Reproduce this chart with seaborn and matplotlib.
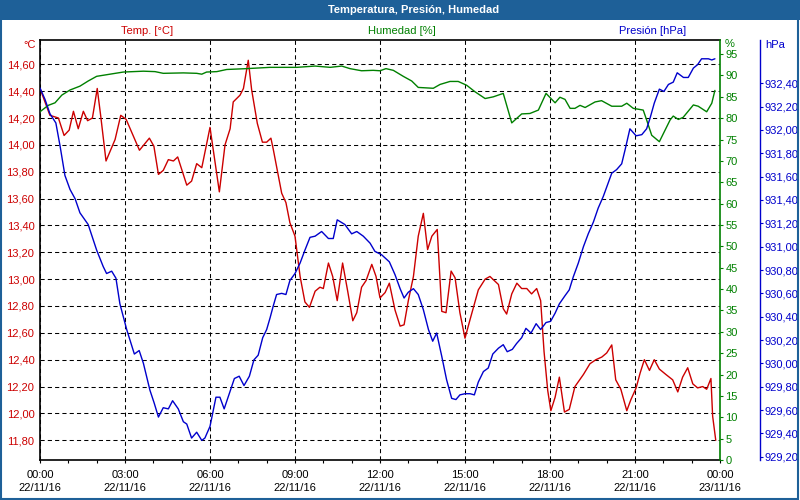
import matplotlib
matplotlib.use("Agg")
import matplotlib.pyplot as plt
import seaborn as sns
import pandas as pd
from matplotlib.patches import Rectangle

# ---------------- data ----------------
title = "Temperatura, Presión, Humedad"
temp_label = "Temp. [°C]"
hum_label = "Humedad [%]"
pres_label = "Presión [hPa]"

temp_hours = [0.00, 0.35, 0.65, 0.85, 1.03, 1.18, 1.35, 1.53, 1.68, 1.85,
              2.02, 2.14, 2.33, 2.65, 2.85, 3.04, 3.51, 3.86, 4.02, 4.18,
              4.35, 4.53, 4.71, 4.86, 5.18, 5.35, 5.53, 5.71, 6.00, 6.33,
              6.53, 6.71, 6.82, 7.06, 7.18, 7.35, 7.47, 7.67, 7.85, 8.00,
              8.15, 8.23, 8.53, 8.68, 8.82, 9.00, 9.18, 9.35, 9.51, 9.71,
              9.88, 10.00, 10.18, 10.33, 10.49, 10.68, 10.86, 11.04, 11.18, 11.35,
              11.51, 11.71, 11.86, 12.00, 12.18, 12.33, 12.53, 12.71, 12.85, 13.00,
              13.18, 13.35, 13.53, 13.68, 13.83, 14.02, 14.18, 14.33, 14.51, 14.65,
              14.82, 15.00, 15.18, 15.47, 15.71, 15.88, 16.18, 16.35, 16.47, 16.65,
              16.83, 17.00, 17.18, 17.35, 17.53, 17.67, 17.79, 17.92, 18.03, 18.18,
              18.33, 18.51, 18.68, 18.88, 19.18, 19.41, 19.62, 19.83, 20.00, 20.18,
              20.32, 20.50, 20.71, 20.85, 21.04, 21.18, 21.33, 21.51, 21.68, 21.86,
              22.09, 22.33, 22.51, 22.68, 22.86, 23.04, 23.21, 23.39, 23.53, 23.68,
              23.74, 23.85]
temp_values = [14.42, 14.22, 14.20, 14.07, 14.11, 14.25, 14.12, 14.25, 14.18, 14.20,
               14.42, 14.22, 13.88, 14.04, 14.22, 14.19, 13.96, 14.05, 13.99, 13.78,
               13.81, 13.89, 13.88, 13.91, 13.70, 13.73, 13.86, 13.83, 14.13, 13.65,
               14.00, 14.12, 14.32, 14.37, 14.42, 14.63, 14.41, 14.16, 14.02, 14.02,
               14.05, 13.97, 13.64, 13.57, 13.42, 13.32, 13.02, 12.83, 12.79, 12.91,
               12.94, 12.93, 13.12, 13.02, 12.84, 13.12, 12.91, 12.69, 12.75, 12.94,
               12.99, 13.11, 13.02, 12.86, 12.90, 12.97, 12.77, 12.65, 12.66, 12.84,
               13.02, 13.32, 13.49, 13.22, 13.32, 13.37, 12.76, 12.75, 13.06, 13.01,
               12.75, 12.56, 12.70, 12.92, 13.00, 13.02, 12.96, 12.78, 12.74, 12.89,
               12.97, 12.93, 12.93, 12.89, 12.93, 12.84, 12.46, 12.17, 12.02, 12.12,
               12.27, 12.01, 12.03, 12.20, 12.29, 12.37, 12.40, 12.42, 12.45, 12.51,
               12.25, 12.18, 12.02, 12.10, 12.19, 12.30, 12.40, 12.32, 12.40, 12.33,
               12.29, 12.25, 12.16, 12.27, 12.34, 12.22, 12.19, 12.20, 12.18, 12.26,
               11.98, 11.80]

hum_hours = [0.00, 0.29, 0.53, 0.77, 1.06, 1.41, 1.70, 2.00, 2.47, 2.94,
             3.65, 4.06, 4.35, 5.06, 5.53, 5.71, 5.88, 6.24, 6.59, 7.30,
             8.12, 9.06, 9.71, 10.24, 10.65, 10.94, 11.35, 11.76, 12.00, 12.21,
             12.47, 12.82, 13.12, 13.35, 13.88, 14.12, 14.47, 14.76, 15.06, 15.35,
             15.71, 16.00, 16.35, 16.65, 17.00, 17.29, 17.59, 17.86, 18.18, 18.35,
             18.53, 18.71, 18.88, 19.06, 19.24, 19.59, 19.82, 20.18, 20.53, 20.71,
             20.94, 21.29, 21.41, 21.59, 21.86, 22.24, 22.35, 22.53, 22.70, 23.06,
             23.23, 23.53, 23.71, 23.82]
hum_values = [81.5, 83.0, 83.6, 85.4, 86.6, 87.5, 88.7, 89.8, 90.3, 90.8,
              91.0, 90.9, 90.5, 90.6, 90.5, 90.3, 90.8, 90.9, 91.4, 91.6,
              91.9, 91.9, 92.2, 91.9, 92.2, 91.6, 91.1, 91.2, 91.1, 91.6,
              91.2, 89.8, 88.7, 87.2, 87.0, 87.9, 88.6, 88.6, 87.7, 86.2,
              84.6, 85.0, 85.8, 78.9, 81.0, 81.1, 81.9, 85.8, 83.6, 84.9,
              84.4, 82.3, 82.3, 83.0, 82.5, 83.8, 84.1, 82.8, 82.8, 83.5,
              82.3, 81.9, 79.6, 76.0, 74.5, 79.6, 80.5, 79.7, 80.2, 83.1,
              82.8, 81.5, 83.5, 86.5]

pres_hours = [0.00, 0.18, 0.35, 0.56, 0.71, 0.88, 1.06, 1.24, 1.41, 1.70,
              2.00, 2.23, 2.35, 2.53, 2.68, 2.82, 3.06, 3.33, 3.50, 3.65,
              3.88, 4.03, 4.18, 4.35, 4.53, 4.68, 4.88, 5.06, 5.18, 5.35,
              5.53, 5.71, 5.82, 6.00, 6.21, 6.35, 6.50, 6.68, 6.86, 7.03,
              7.20, 7.39, 7.55, 7.70, 7.86, 8.00, 8.12, 8.23, 8.35, 8.53,
              8.68, 8.82, 9.00, 9.18, 9.35, 9.53, 9.71, 9.94, 10.18, 10.35,
              10.49, 10.76, 11.00, 11.18, 11.41, 11.65, 11.82, 12.06, 12.33, 12.53,
              12.71, 12.85, 13.00, 13.18, 13.35, 13.53, 13.71, 13.86, 14.00, 14.18,
              14.35, 14.53, 14.68, 14.82, 15.00, 15.18, 15.33, 15.47, 15.65, 15.82,
              15.98, 16.18, 16.35, 16.49, 16.67, 16.82, 17.00, 17.15, 17.33, 17.51,
              17.67, 17.86, 18.02, 18.18, 18.33, 18.53, 18.68, 18.82, 19.00, 19.18,
              19.35, 19.53, 19.70, 19.88, 20.18, 20.35, 20.53, 20.65, 20.82, 21.04,
              21.24, 21.41, 21.53, 21.68, 21.86, 22.02, 22.18, 22.35, 22.49, 22.71,
              22.88, 23.06, 23.21, 23.35, 23.59, 23.71, 23.82]
pres_values = [932.36, 932.26, 932.14, 932.06, 931.86, 931.61, 931.49, 931.41, 931.29, 931.19,
               930.97, 930.83, 930.77, 930.79, 930.73, 930.51, 930.29, 930.08, 930.11, 930.00,
               929.77, 929.66, 929.54, 929.62, 929.61, 929.68, 929.61, 929.50, 929.48, 929.36,
               929.41, 929.34, 929.36, 929.46, 929.71, 929.71, 929.61, 929.74, 929.87, 929.89,
               929.81, 929.89, 930.03, 930.07, 930.22, 930.29, 930.39, 930.49, 930.59, 930.60,
               930.59, 930.71, 930.77, 930.86, 930.97, 931.08, 931.09, 931.13, 931.07, 931.07,
               931.23, 931.19, 931.11, 931.13, 931.09, 931.03, 930.96, 930.93, 930.87, 930.76,
               930.64, 930.56, 930.61, 930.64, 930.59, 930.46, 930.29, 930.19, 930.26, 930.06,
               929.86, 929.70, 929.69, 929.73, 929.74, 929.74, 929.73, 929.84, 929.93, 929.96,
               930.08, 930.13, 930.16, 930.10, 930.12, 930.17, 930.22, 930.30, 930.26, 930.34,
               930.29, 930.35, 930.36, 930.43, 930.51, 930.58, 930.63, 930.74, 930.86, 931.00,
               931.11, 931.21, 931.33, 931.43, 931.63, 931.66, 931.71, 931.83, 932.01, 931.95,
               931.96, 932.01, 932.10, 932.23, 932.35, 932.33, 932.39, 932.41, 932.49, 932.45,
               932.45, 932.53, 932.56, 932.61, 932.61, 932.60, 932.61]

x_tick_hours = [0, 3, 6, 9, 12, 15, 18, 21, 24]
x_tick_labels = ["00:00\n22/11/16", "03:00\n22/11/16", "06:00\n22/11/16",
                 "09:00\n22/11/16", "12:00\n22/11/16", "15:00\n22/11/16",
                 "18:00\n22/11/16", "21:00\n22/11/16", "00:00\n23/11/16"]
temp_ticks = [11.8, 12.0, 12.2, 12.4, 12.6, 12.8, 13.0, 13.2, 13.4, 13.6, 13.8, 14.0, 14.2, 14.4, 14.6]
hum_ticks = [0, 5, 10, 15, 20, 25, 30, 35, 40, 45, 50, 55, 60, 65, 70, 75, 80, 85, 90, 95]
pres_ticks = [929.2, 929.4, 929.6, 929.8, 930.0, 930.2, 930.4, 930.6, 930.8, 931.0,
              931.2, 931.4, 931.6, 931.8, 932.0, 932.2, 932.4]

# ---------------- style ----------------
sns.set_style("white")
plt.rcParams['font.family'] = ['Liberation Sans', 'DejaVu Sans']
plt.rcParams['font.size'] = 8

RED = "#cc0000"
GREEN = "#008000"
BLUE = "#0000cc"
BAND = "#1e6098"
FS = 8

df_t = pd.DataFrame({"hora": temp_hours, "valor": temp_values})
df_h = pd.DataFrame({"hora": hum_hours, "valor": hum_values})
df_p = pd.DataFrame({"hora": pres_hours, "valor": pres_values})

fig = plt.figure(figsize=(8, 5), dpi=100)
fig.patch.set_facecolor("white")

# title band and frame
fig.patches.append(Rectangle((0, 0.96), 1, 0.04, transform=fig.transFigure,
                             facecolor=BAND, edgecolor="none", zorder=0))
fig.patches.append(Rectangle((0.001, 0.002), 0.997, 0.995, transform=fig.transFigure,
                             facecolor="none", edgecolor=BAND, linewidth=1.5, zorder=0))
fig.text(0.5175, 0.98, title, color="white", fontweight="bold",
         ha="center", va="center", fontsize=FS)

ax = fig.add_axes([0.05, 0.08, 0.85, 0.84])
ax2 = ax.twinx()
ax3 = ax.twinx()

sns.lineplot(data=df_t, x="hora", y="valor", ax=ax, color=RED, linewidth=1.0,
             estimator=None, sort=False)
sns.lineplot(data=df_h, x="hora", y="valor", ax=ax2, color=GREEN, linewidth=1.0,
             estimator=None, sort=False)
sns.lineplot(data=df_p, x="hora", y="valor", ax=ax3, color=BLUE, linewidth=1.0,
             estimator=None, sort=False)

ax.set_xlim(0, 24)
ax.set_ylim(11.653, 14.781)
ax2.set_ylim(0, 98.3)
ax3.set_ylim(929.172, 932.771)

for a in (ax, ax2, ax3):
    a.set_xlabel("")
    a.set_ylabel("")

# x axis
ax.set_xticks(x_tick_hours)
ax.set_xticklabels(x_tick_labels, linespacing=1.35)
ax.set_xticks([h for h in range(25) if h % 3 != 0], minor=True)
ax.tick_params(axis="x", which="both", direction="out", length=2.5, width=0.8,
               color="black", labelcolor="black", labelsize=FS, pad=5, bottom=True)

# temperature axis
ax.set_yticks(temp_ticks)
ax.set_yticklabels([f"{v:.2f}".replace(".", ",") for v in temp_ticks])
ax.tick_params(axis="y", length=0, pad=4, labelcolor=RED, labelsize=FS, left=True)

ax.grid(True, which="major", color="black", linestyle=(0, (4, 3)), linewidth=0.75)

for s in ("left", "bottom", "top"):
    ax.spines[s].set_visible(True)
    ax.spines[s].set_color("black")
    ax.spines[s].set_linewidth(1.2)
ax.spines["right"].set_visible(False)

# humidity axis
ax2.set_yticks(hum_ticks)
ax2.set_yticklabels([str(v) for v in hum_ticks])
ax2.tick_params(axis="y", direction="out", length=2.5, width=0.8, color=GREEN,
                labelcolor=GREEN, labelsize=FS, pad=1.5, right=True)
for s in ("left", "bottom", "top"):
    ax2.spines[s].set_visible(False)
ax2.spines["right"].set_visible(True)
ax2.spines["right"].set_color(GREEN)
ax2.spines["right"].set_linewidth(1.2)
ax2.grid(False)

# pressure axis
ax3.spines["right"].set_position(("axes", 720 / 680))
ax3.set_yticks(pres_ticks)
ax3.set_yticklabels([f"{v:.2f}".replace(".", ",") for v in pres_ticks])
ax3.tick_params(axis="y", direction="out", length=2, width=0.8, color=BLUE,
                labelcolor=BLUE, labelsize=FS, pad=1.5, right=True)
for s in ("left", "bottom", "top"):
    ax3.spines[s].set_visible(False)
ax3.spines["right"].set_visible(True)
ax3.spines["right"].set_color(BLUE)
ax3.spines["right"].set_linewidth(1.0)
ax3.grid(False)

# series / unit labels
fig.text(147 / 800, 1 - 31 / 500, temp_label, color=RED, ha="center", va="center", fontsize=FS)
fig.text(402 / 800, 1 - 31 / 500, hum_label, color=GREEN, ha="center", va="center", fontsize=FS)
fig.text(653 / 800, 1 - 31 / 500, pres_label, color=BLUE, ha="center", va="center", fontsize=FS)
fig.text(36 / 800, 1 - 45 / 500, "°C", color=RED, ha="right", va="center", fontsize=FS)
fig.text(725 / 800, 1 - 44 / 500, "%", color=GREEN, ha="left", va="center", fontsize=FS)
fig.text(765 / 800, 1 - 45 / 500, "hPa", color=BLUE, ha="left", va="center", fontsize=FS)

fig.savefig("out.png", dpi=100, facecolor="white")
